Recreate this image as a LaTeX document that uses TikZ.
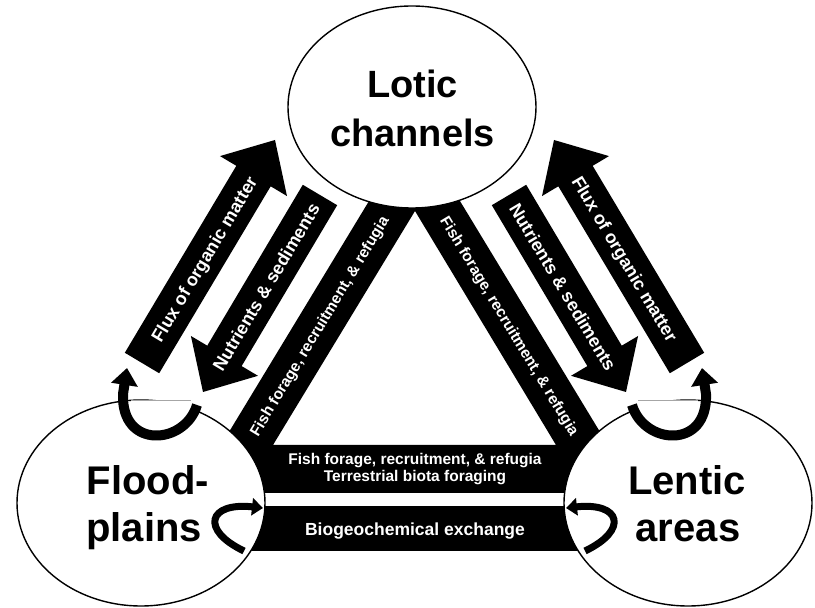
\documentclass[tikz,border=0pt]{standalone}
\usepackage{fontspec}
\setmainfont{Liberation Sans}
\usetikzlibrary{arrows.meta,shapes.geometric,calc}
\newcommand\blkarrow[2]{%
  \path ($(#2)!42pt!(#1)$) coordinate (hb);
  \fill ($(#1)!20pt!90:(#2)$) -- ($(hb)!20pt!-90:(#1)$) -- ($(hb)!39pt!-90:(#1)$) -- (#2)
     -- ($(hb)!39pt!90:(#1)$) -- ($(hb)!20pt!90:(#1)$) -- ($(#1)!20pt!-90:(#2)$) -- cycle;}
\begin{document}
\begin{tikzpicture}[x=1pt,y=1pt,
 region/.style={ellipse, draw=black, line width=1.4pt, fill=white, inner sep=0pt},
 bandtext/.style={text=white, font=\fontsize{15.5}{17}\selectfont\bfseries, inner sep=0pt},
 armtext/.style={text=white, font=\fontsize{18}{20}\selectfont\bfseries, inner sep=0pt, text height=13pt, text depth=0pt},
 fishtext/.style={bandtext, text height=11pt, text depth=0pt},
 biglabel/.style={font=\fontsize{38}{46}\selectfont\bfseries, inner sep=0pt, anchor=base},
 sidelabel/.style={font=\fontsize{40}{48}\selectfont\bfseries, inner sep=0pt, anchor=base},
 uturn/.style={line width=10pt, -{Triangle[length=17pt,width=26pt]}},
 smallloop/.style={line width=7pt, -{Triangle[length=11pt,width=17pt]}},
 maskline/.style={draw=black!35, line width=0.8pt},
]
\useasboundingbox (0,0) rectangle (815,608);
% black bands
\fill[even odd rule] (414.5,482) -- (192,115) -- (637,115) -- cycle
                     (415,397) -- (273,163) -- (556,163) -- cycle;
\fill (200,57) rectangle (630,102);
% regions
\node[region, minimum width=248, minimum height=202] (lotic) at (412,501) {};
\node[region, minimum width=248, minimum height=206] (flood) at (141,105) {};
\node[region, minimum width=248, minimum height=206] (lentic) at (688,105) {};
% block arrows
\coordinate (fLt) at (142,245); \coordinate (fLh) at (275,468);
\coordinate (nLt) at (320,413); \coordinate (nLh) at (203,216);
\coordinate (fRt) at (687,245); \coordinate (fRh) at (554,468);
\coordinate (nRt) at (509,413); \coordinate (nRh) at (626,216);
\blkarrow{fLt}{fLh}
\blkarrow{nLt}{nLh}
\blkarrow{fRt}{fRh}
\blkarrow{nRt}{nRh}
% arrow texts
\node[armtext, rotate=59.2] (tfL) at (204,349) {Flux of organic matter};
\node[armtext, rotate=59.2] (tnL) at (266,321) {Nutrients \& sediments};
\node[fishtext, rotate=58.8] (tsL) at (319,282) {Fish forage, recruitment, \& refugia};
\node[armtext, rotate=-59.2] (tfR) at (625,349) {Flux of organic matter};
\node[armtext, rotate=-59.2] (tnR) at (563,321) {Nutrients \& sediments};
\node[fishtext, rotate=-58.8] (tsR) at (510,282) {Fish forage, recruitment, \& refugia};
% bottom band texts
\node[bandtext, anchor=base] (tb1) at (415,143) {Fish forage, recruitment, \& refugia};
\node[bandtext, anchor=base] (tb2) at (415,126) {Terrestrial biota foraging};
\node[bandtext, anchor=base, font=\fontsize{17.5}{20}\selectfont\bfseries] (tb3) at (415,72) {Biogeochemical exchange};
% region labels
\node[biglabel] (l1) at (412.5,510) {Lotic};
\node[biglabel] (l2) at (412.5,461) {channels};
\node[sidelabel] (f1) at (148,113) {Flood-};
\node[sidelabel] (f2) at (144,66) {plains};
\node[sidelabel] (e1) at (687,113) {Lentic};
\node[sidelabel] (e2) at (688,66) {areas};
% masks at circle tops
\fill[white] (131,194) rectangle (191,208);
\draw[maskline] (131,208) -- (191,208);
\fill[white] (638,194) rectangle (698,208);
\draw[maskline] (638,208) -- (698,208);
% u-turn arrows
\draw[uturn] (197,203) .. controls (185,163) and (121,158) .. (123,214) -- (127,240);
\draw[uturn] (632,203) .. controls (644,163) and (708,158) .. (706,214) -- (702,240);
% small loops
\draw[smallloop] (244,57) .. controls (200,78) and (208,106) .. (263,100);
\draw[smallloop] (585,57) .. controls (629,78) and (621,106) .. (566,100);
\end{tikzpicture}
\end{document}
